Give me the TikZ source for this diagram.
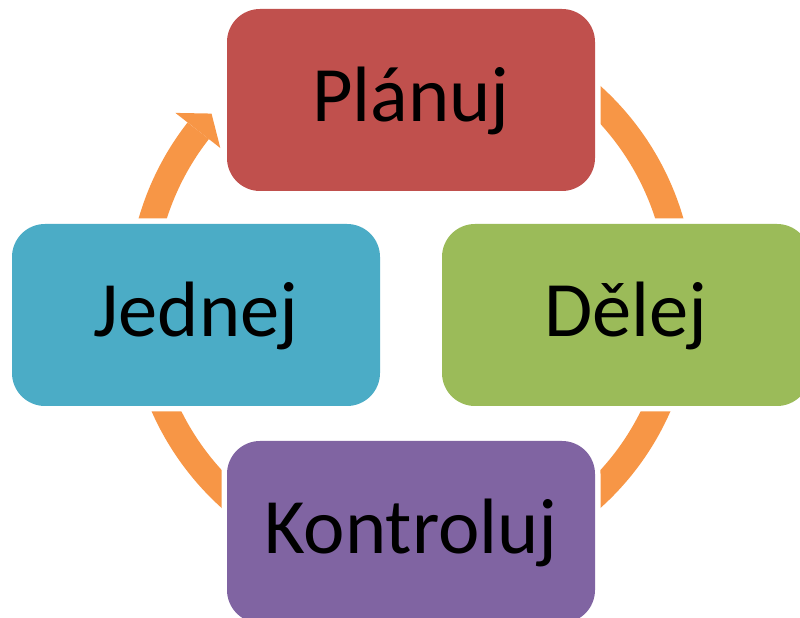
\documentclass[tikz,border=0pt]{standalone}
\usepackage{fontspec}
\setmainfont{Carlito}
\definecolor{cred}{HTML}{C0504D}
\definecolor{cgreen}{HTML}{9BBB59}
\definecolor{cblue}{HTML}{4BACC6}
\definecolor{cpurple}{HTML}{8064A2}
\definecolor{corange}{HTML}{F79646}
\begin{document}
\begin{tikzpicture}[x=1pt,y=1pt,
  stagebox/.style={rectangle, rounded corners=33pt, minimum width=368pt, minimum height=182pt,
    inner sep=0pt, text=black, font=\fontsize{78.5}{82}\selectfont,
    text height=60pt, text depth=16pt,
    preaction={draw=white, line width=11pt}}]
\useasboundingbox (0,0) rectangle (800,618);
\clip (0,0) rectangle (800,618);
% cycle arrow
\coordinate (ctr) at (411,321);
\draw[corange, line width=27pt] ([shift={(70:270)}]ctr) arc[start angle=70, end angle=-218, radius=270];
\fill[corange] ([shift={(142:299)}]ctr) -- ([shift={(137.4:271)}]ctr) -- ([shift={(142:242)}]ctr) -- cycle;
% stages
\node[stagebox, fill=cred] (plan) at (411,518) {Plánuj};
\node[stagebox, fill=cgreen] (do) at (626,303) {Dělej};
\node[stagebox, fill=cpurple] (check) at (411,86) {Kontroluj};
\node[stagebox, fill=cblue] (act) at (196,303) {Jednej};
\end{tikzpicture}
\end{document}
